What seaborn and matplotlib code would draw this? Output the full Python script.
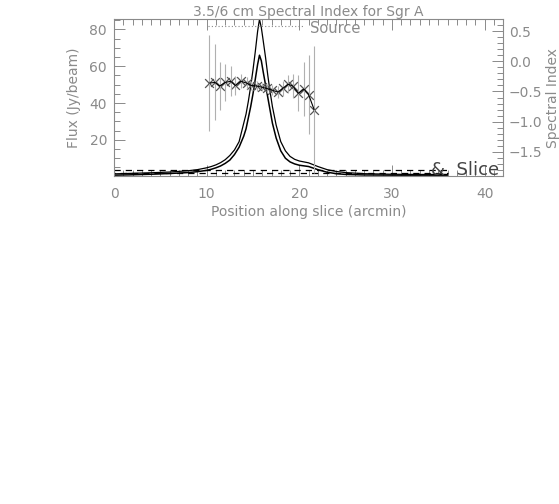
import numpy as np
import pandas as pd
import matplotlib
matplotlib.use("Agg")
from matplotlib import pyplot as plt
from matplotlib.ticker import MultipleLocator
import seaborn as sns

# flux profiles along the slice (arcmin, Jy/beam)
pos = [0, 2, 4, 6, 8, 9, 10, 10.5, 11, 11.5, 12, 12.5, 13, 13.5, 14, 14.25, 14.5, 14.75,
       15, 15.25, 15.5, 15.7, 15.9, 16.1, 16.35, 16.6, 16.85, 17.1, 17.5, 18, 18.5, 19,
       19.5, 20, 21, 22, 23, 24, 25, 27, 30, 33, 36]
flux_35 = [1.5, 1.8, 2.1, 2.5, 3.2, 3.8, 4.8, 5.5, 6.4, 7.6, 9.2, 11.5, 14.5, 19, 29, 34, 41, 49,
           58, 68, 79, 85.5, 81, 74, 65, 55, 46, 38, 28, 19, 14, 11,
           9.4, 8.5, 7.5, 5.5, 3.8, 2.8, 2.2, 1.6, 1.3, 1.2, 1.2]
flux_6 = [0.8, 1.0, 1.3, 1.7, 2.2, 2.7, 3.4, 4.0, 4.8, 5.8, 7.2, 9.0, 12, 16, 22, 26, 32, 38,
          45, 53, 61, 66, 63, 57, 50, 43, 36, 29, 21, 14, 10, 8,
          6.9, 6.2, 5.5, 3.8, 2.4, 1.6, 1.2, 0.9, 0.8, 0.8, 0.8]

# background levels (dashed)
bg_pos = [0, 36]
bg_hi = [3.6, 3.6]
bg_lo = [2.0, 2.0]

# spectral index along the slice
si_pos = [10.3, 10.9, 11.4, 12.0, 12.6, 13.1, 13.7, 14.3, 14.8, 15.4, 16.0,
          16.5, 17.1, 17.7, 18.2, 18.8, 19.3, 19.9, 20.5, 21.0, 21.6]
si_val = [-0.36, -0.35, -0.41, -0.35, -0.33, -0.40, -0.33, -0.36, -0.40, -0.41, -0.43,
          -0.45, -0.48, -0.51, -0.45, -0.38, -0.41, -0.53, -0.46, -0.55, -0.80]
si_err = [0.80, 0.63, 0.40, 0.30, 0.25, 0.15, 0.12, 0.10, 0.08, 0.08, 0.07,
          0.07, 0.08, 0.10, 0.12, 0.15, 0.20, 0.30, 0.45, 0.65, 1.05]

grey = "#8a8a8a"
sns.set_style("ticks")
plt.rcParams["font.family"] = ["DejaVu Sans"]
plt.rcParams["font.size"] = 10

fig = plt.figure(figsize=(5.59, 5.04), dpi=100)
ax = fig.add_axes([0.204, 0.651, 0.696, 0.311])

prof = pd.DataFrame({"pos": pos, "f35": flux_35, "f6": flux_6})
sns.lineplot(data=prof, x="pos", y="f35", ax=ax, color="black", lw=0.9, estimator=None, sort=False)
sns.lineplot(data=prof, x="pos", y="f6", ax=ax, color="black", lw=1.1, estimator=None, sort=False)
ax.plot(bg_pos, bg_hi, color="black", lw=0.9, ls=(0, (5, 4)))
ax.plot(bg_pos, bg_lo, color="black", lw=0.9, ls=(4, (5, 4)))

ax.set_xlim(0, 42)
ax.set_ylim(0.4, 85.6)
ax.set_xlabel("Position along slice (arcmin)", color=grey, fontsize=10, labelpad=3)
ax.set_ylabel("Flux (Jy/beam)", color=grey, fontsize=10, labelpad=6)
ax.set_title("3.5/6 cm Spectral Index for Sgr A", color=grey, fontsize=10, pad=2)

ax.xaxis.set_major_locator(MultipleLocator(10))
ax.xaxis.set_minor_locator(MultipleLocator(1))
ax.yaxis.set_major_locator(MultipleLocator(20))
ax.yaxis.set_minor_locator(MultipleLocator(5))
ax.tick_params(axis="x", which="both", direction="in", top=True, bottom=True, colors=grey, labelsize=10, pad=8)
ax.tick_params(axis="y", which="both", direction="in", left=True, right=False, colors=grey, labelsize=10, pad=5)
ax.tick_params(which="major", length=8, width=0.7)
ax.tick_params(which="minor", length=4, width=0.7)
for s in ax.spines.values():
    s.set_color(grey)
    s.set_linewidth(0.8)

ax2 = ax.twinx()
si = pd.DataFrame({"pos": si_pos, "si": si_val, "err": si_err})
ax2.errorbar(si["pos"], si["si"], yerr=si["err"], fmt="none", ecolor="#b0b0b0", elinewidth=0.8)
sns.lineplot(data=si, x="pos", y="si", ax=ax2, color="black", lw=0.8, estimator=None, sort=False)
sns.scatterplot(data=si, x="pos", y="si", ax=ax2, marker="x", s=40, color="#555555", linewidth=0.9)
ax2.set_ylim(-1.9, 0.7)
ax2.set_ylabel("Spectral Index", color=grey, fontsize=10, labelpad=3)
ax2.yaxis.set_major_locator(MultipleLocator(0.5))
ax2.yaxis.set_minor_locator(MultipleLocator(0.1))
ax2.tick_params(axis="y", which="both", direction="in", right=True, left=False, colors=grey, labelsize=10, pad=4)
ax2.tick_params(which="major", length=8, width=0.7)
ax2.tick_params(which="minor", length=4, width=0.7)
ax2.yaxis.set_major_formatter(matplotlib.ticker.FuncFormatter(lambda v, p: f"{v:.1f}".replace("-", "\u2212")))
for s in ax2.spines.values():
    s.set_visible(False)

# legend entries in IDL style
ax.plot([0.242, 0.485], [0.955, 0.955], transform=ax.transAxes, color=grey, lw=0.8, ls=(0, (1, 2)))
ax.text(0.503, 0.99, "Source", transform=ax.transAxes, color=grey, fontsize=10.5, va="top", ha="left")
ax.text(0.99, -0.02, "&  Slice", transform=ax.transAxes, color="#444444", fontsize=13, va="bottom", ha="right")

fig.savefig("out.png", dpi=100)
